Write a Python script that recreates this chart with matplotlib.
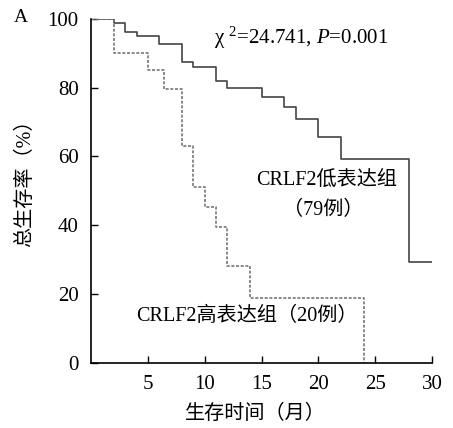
import matplotlib
matplotlib.use("Agg")
import matplotlib.pyplot as plt

plt.rcParams['font.family'] = ['Liberation Serif', 'Noto Sans CJK SC']
plt.rcParams['mathtext.fontset'] = 'custom'
plt.rcParams['mathtext.rm'] = 'Liberation Serif'
plt.rcParams['mathtext.it'] = 'Liberation Serif:italic'

# low expression group (79 cases)
low_t = [0, 2, 3, 4, 6, 8, 9, 11, 12, 15, 17, 18, 20, 22, 28, 30]
low_s = [100, 98.7, 96.1, 95.1, 92.6, 87.4, 86.1, 81.8, 79.8, 77.2, 74.3, 70.9, 65.6, 59.2, 29.4, 29.4]

# high expression group (20 cases)
high_t = [0, 2, 5, 6.4, 8, 9, 10, 11, 12, 14, 24]
high_s = [100, 90, 85, 79.6, 63, 51.2, 45.4, 39.6, 28.2, 18.9, 0]

xticks = [5, 10, 15, 20, 25, 30]
yticks = [0, 20, 40, 60, 80, 100]

fig = plt.figure(figsize=(4.53, 4.28), dpi=100)
ax = fig.add_axes([0.201, 0.152, 0.753, 0.804])

ax.step(low_t, low_s, where='post', color='#444444', lw=1.2)
ax.step(high_t, high_s, where='post', color='#777777', lw=1.2, ls=(0, (1.8, 1.0)))

ax.set_xlim(0, 30)
ax.set_ylim(0, 100)
ax.set_xticks(xticks)
ax.set_yticks(yticks)
ax.tick_params(direction='in', length=5, width=1, labelsize=15, pad=9)
for s in ['top', 'right']:
    ax.spines[s].set_visible(False)
for s in ['left', 'bottom']:
    ax.spines[s].set_linewidth(1.2)

ax.set_xlabel('生存时间（月）', fontsize=14.5)
ax.set_ylabel('总生存率（%）', fontsize=14.5)
ax.xaxis.set_label_coords(0.481, -0.122)
ax.yaxis.set_label_coords(-0.164, 0.538)

ax.text(10.8, 94.5, r'χ $^{2}$=24.741, $P$=0.001', fontsize=15, va='center', ha='left')
ax.text(20.7, 53.2, 'CRLF2低表达组', fontsize=14.5, ha='center', va='center')
ax.text(20.4, 44.3, '（79例）', fontsize=14.5, ha='center', va='center')
ax.text(13.7, 13.5, 'CRLF2高表达组（20例）', fontsize=14.5, ha='center', va='center')
fig.text(0.046, 0.958, 'A', fontsize=14, ha='center', va='center')

fig.savefig('out.png', dpi=100)
